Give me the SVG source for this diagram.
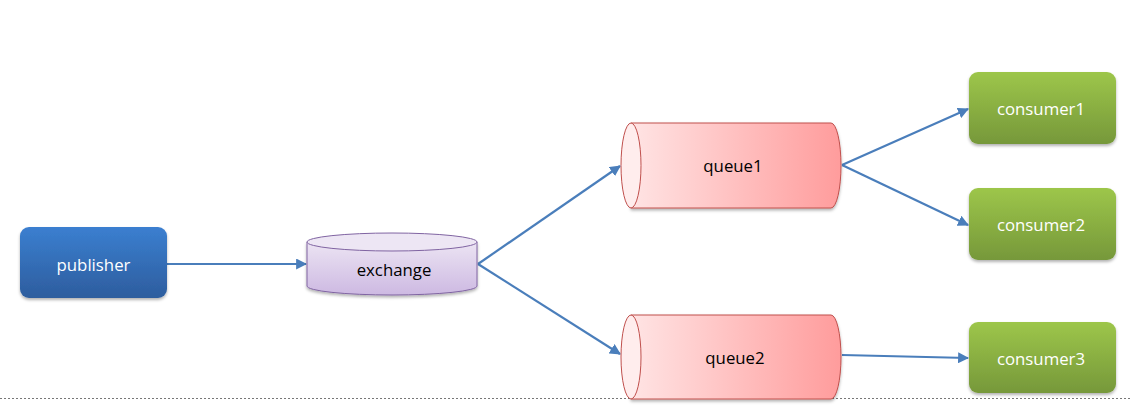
<svg xmlns="http://www.w3.org/2000/svg" width="1130" height="415" viewBox="0 0 1130 415">
<style>
.lbl{font-family:"Open Sans","Liberation Sans",sans-serif;font-size:16.8px;text-anchor:middle;dominant-baseline:central}
.w{fill:#ffffff}
.k{fill:#000000}
.conn{stroke:#4a7ebb;stroke-width:2.2;fill:none;marker-end:url(#ah)}
</style>
<defs>
<marker id="ah" viewBox="0 0 10 10" refX="9" refY="5" markerWidth="5" markerHeight="5" orient="auto" markerUnits="strokeWidth">
<path d="M0,0 L10,5 L0,10 z" fill="#4a7ebb"/>
</marker>
<linearGradient id="gBlue" x1="0" y1="0" x2="0" y2="1"><stop offset="0" stop-color="#3b7fd0"/><stop offset="1" stop-color="#2d5d9e"/></linearGradient>
<linearGradient id="gGreen" x1="0" y1="0" x2="0" y2="1"><stop offset="0" stop-color="#9dc64a"/><stop offset="1" stop-color="#76983a"/></linearGradient>
<linearGradient id="gPurple" x1="0" y1="0" x2="0" y2="1"><stop offset="0" stop-color="#ece4f3"/><stop offset="1" stop-color="#cdb9e2"/></linearGradient>
<linearGradient id="gRed" x1="0" y1="0" x2="1" y2="0"><stop offset="0" stop-color="#ffe4e4"/><stop offset="1" stop-color="#ff9c9c"/></linearGradient>
<filter id="sh" x="-10%" y="-10%" width="130%" height="140%"><feDropShadow dx="0" dy="2" stdDeviation="1.5" flood-color="#000" flood-opacity="0.3"/></filter>
</defs>
<line x1="0" y1="398.5" x2="1130" y2="398.5" stroke="#777" stroke-width="1" stroke-dasharray="2,2"/>
<g id="connectors">
<line class="conn" x1="167" y1="264" x2="306" y2="264"/>
<line class="conn" x1="478" y1="264" x2="620" y2="166"/>
<line class="conn" x1="478" y1="264" x2="620" y2="354"/>
<line class="conn" x1="842" y1="165" x2="968" y2="109"/>
<line class="conn" x1="842" y1="165" x2="968" y2="225"/>
<line class="conn" x1="842" y1="355" x2="968" y2="358"/>
</g>
<g id="publisher">
<rect x="20" y="227" width="147" height="71" rx="9" fill="url(#gBlue)" filter="url(#sh)"/>
<text class="lbl w" x="93.5" y="264">publisher</text>
</g>
<g id="exchange">
<path d="M307,242 L307,286 A85,9 0 0 0 477,286 L477,242 Z" fill="url(#gPurple)" stroke="#8064a2" stroke-width="1" filter="url(#sh)"/>
<ellipse cx="392" cy="242" rx="85" ry="9" fill="#ede6f4" stroke="#8064a2" stroke-width="1"/>
<text class="lbl k" x="394" y="269">exchange</text>
</g>
<g id="queue1">
<path d="M631,123 L831,123 A10,42.5 0 0 1 831,208 L631,208 Z" fill="url(#gRed)" stroke="#c0504d" stroke-width="1" filter="url(#sh)"/>
<ellipse cx="631" cy="165.5" rx="10" ry="42.5" fill="#ffeded" stroke="#c0504d" stroke-width="1"/>
<text class="lbl k" x="733" y="165">queue1</text>
</g>
<g id="queue2">
<path d="M631,315 L831,315 A10,42 0 0 1 831,399 L631,399 Z" fill="url(#gRed)" stroke="#c0504d" stroke-width="1" filter="url(#sh)"/>
<ellipse cx="631" cy="357" rx="10" ry="42" fill="#ffeded" stroke="#c0504d" stroke-width="1"/>
<text class="lbl k" x="735" y="357">queue2</text>
</g>
<g id="consumer1">
<rect x="969" y="72" width="147" height="72" rx="9" fill="url(#gGreen)" filter="url(#sh)"/>
<text class="lbl w" x="1041" y="108">consumer1</text>
</g>
<g id="consumer2">
<rect x="969" y="188" width="147" height="72" rx="9" fill="url(#gGreen)" filter="url(#sh)"/>
<text class="lbl w" x="1041" y="224">consumer2</text>
</g>
<g id="consumer3">
<rect x="969" y="322" width="147" height="71" rx="9" fill="url(#gGreen)" filter="url(#sh)"/>
<text class="lbl w" x="1041" y="358">consumer3</text>
</g>
</svg>
